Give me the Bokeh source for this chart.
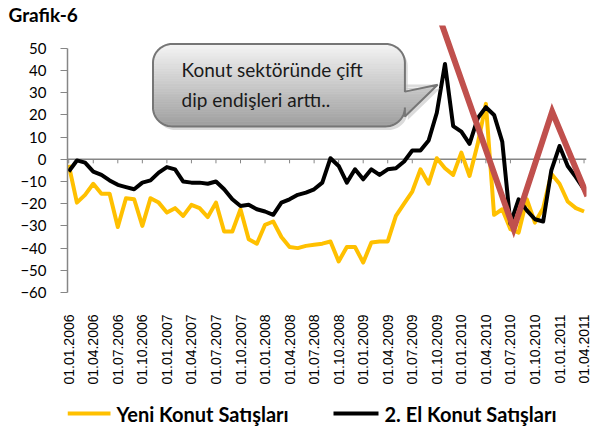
import numpy as np
from bokeh.plotting import figure
from bokeh.layouts import column
from bokeh.models import FixedTicker, Span, ColumnDataSource, Range1d
from bokeh.core.properties import value
from bokeh.embed import file_html
from bokeh.resources import INLINE

# ---------------- data ----------------
months = list(range(64))  # 01.01.2006 ... 01.04.2011, monthly

yeni_konut = [-2.5, -19.5, -16, -11, -15.5, -15.5, -30.5, -17.5, -18, -30,
              -17.5, -19.5, -24, -22, -25.5, -20.5, -22, -26, -19.5, -32.5,
              -32.5, -22.5, -36, -38, -29.5, -28, -35, -39.5, -40, -39,
              -38.5, -38, -37, -46, -39.5, -39.5, -46.5, -37.5, -37, -37,
              -25.5, -20, -14.5, -4.5, -11, 0.5, -4, -7, 3, -7.5,
              7, 25, -25, -22.5, -31.5, -33, -18, -28.5, -22, -6.5,
              -11, -19, -22, -23.5]

ikinci_el = [-5.5, -0.5, -1.5, -5.5, -7, -9.5, -11.5, -12.5, -13.5, -10.5,
             -9.5, -6, -3.5, -4.5, -10, -10.5, -10.5, -11, -10, -13.5,
             -18, -21, -20.5, -22.5, -23.5, -25, -19.5, -18, -16, -15,
             -13.5, -10.5, 0.5, -3, -10.5, -4.5, -9, -4.5, -7, -4.5,
             -4, -1, 4, 4, 8.5, 21, 43, 15, 12.5, 7,
             18.5, 23.5, 20, 8, -29, -18, -23, -27, -28, -5,
             6, -3, -8, -13.5]

tick_months = list(range(0, 64, 3))
tick_labels = ["01.01.2006", "01.04.2006", "01.07.2006", "01.10.2006",
               "01.01.2007", "01.04.2007", "01.07.2007", "01.10.2007",
               "01.01.2008", "01.04.2008", "01.07.2008", "01.10.2008",
               "01.01.2009", "01.04.2009", "01.07.2009", "01.10.2009",
               "01.01.2010", "01.04.2010", "01.07.2010", "01.10.2010",
               "01.01.2011", "01.04.2011"]
y_ticks = [-60, -50, -40, -30, -20, -10, 0, 10, 20, 30, 40, 50]

series_names = ["Yeni Konut Satışları", "2. El Konut Satışları"]
series_colors = ["#FFC000", "#000000"]

# hand-drawn red "W" annotation (data coordinates)
red_x = [45.5, 54.4, 59.1, 63.4]
red_y = [62.0, -31.4, 21.5, -16.6]

# callout box (data coordinates)
callout_left, callout_right = 10.3, 41.1
callout_bottom, callout_top = 14.8, 52.0
callout_rx, callout_ry = 2.4, 8.5
callout_ptr_top, callout_ptr_bot = 30.5, 19.3
callout_tip = (45.1, 33.6)
callout_lines = ["Konut sektöründe çift", "dip endişleri arttı.."]
callout_text_x = 13.8
callout_text_y = [40.4, 26.9]
title_text = "Grafik-6"

# ---------------- main figure ----------------
p = figure(width=592, height=400, output_backend="svg", toolbar_location=None,
           x_range=Range1d(-0.15, 63.3), y_range=Range1d(-60, 60.3),
           min_border_left=67, min_border_right=6, min_border_top=23,
           min_border_bottom=108, title=title_text)
p.outline_line_color = None
p.xgrid.visible = False
p.ygrid.visible = False
p.background_fill_color = "white"
p.border_fill_color = "white"

p.title.text_font = "Lato"
p.title.text_font_style = "bold"
p.title.text_font_size = "19px"
p.title.text_color = "#000000"
p.title.align = "left"
p.title.offset = -59
p.title.standoff = 0

# zero line with its tick marks
zero = Span(location=0, dimension="width", line_color="#868686", line_width=1.5,
            level="underlay")
p.add_layout(zero)
p.segment(x0=tick_months, y0=[0] * len(tick_months), x1=tick_months,
          y1=[-1.8] * len(tick_months), line_color="#868686", line_width=1)

src = ColumnDataSource(dict(m=months, yeni=yeni_konut, el=ikinci_el))
p.line("m", "yeni", source=src, line_color=series_colors[0], line_width=4,
       line_join="round")
p.line("m", "el", source=src, line_color=series_colors[1], line_width=4,
       line_join="round")

# red annotation
p.line(red_x, red_y, line_color="#C0504D", line_width=6, line_join="miter")

# callout shape
L, R, B, T = callout_left, callout_right, callout_bottom, callout_top
rx, ry = callout_rx, callout_ry


def arc(cx, cy, a0, a1, n=14):
    t = np.linspace(a0, a1, n)
    return list(zip(cx + rx * np.cos(t), cy + ry * np.sin(t)))


pts = []
pts += arc(L + rx, T - ry, np.pi, np.pi / 2)
pts += arc(R - rx, T - ry, np.pi / 2, 0)
pts += [(R, callout_ptr_top), callout_tip, (R, callout_ptr_bot)]
pts += arc(R - rx, B + ry, 0, -np.pi / 2)
pts += arc(L + rx, B + ry, -np.pi / 2, -np.pi)


def clip(poly, yv, keep_above):
    out = []
    n = len(poly)
    for k in range(n):
        cur = poly[k]
        prev = poly[k - 1]
        cin = cur[1] >= yv if keep_above else cur[1] <= yv
        pin = prev[1] >= yv if keep_above else prev[1] <= yv
        if cin:
            if not pin:
                t = (yv - prev[1]) / (cur[1] - prev[1])
                out.append((prev[0] + t * (cur[0] - prev[0]), yv))
            out.append(cur)
        elif pin:
            t = (yv - prev[1]) / (cur[1] - prev[1])
            out.append((prev[0] + t * (cur[0] - prev[0]), yv))
    return out


# shadow
sx = [q[0] + 0.35 for q in pts]
sy = [q[1] - 1.6 for q in pts]
p.patch(sx, sy, fill_color="#bdbdbd", fill_alpha=0.55, line_color=None)

nb = 50
edges = np.linspace(B, T, nb + 1)
top_c, bot_c = 245, 158
bx, by, bc = [], [], []
for k in range(nb):
    band = clip(pts, edges[k], True)
    band = clip(band, edges[k + 1] + 0.05, False)
    if len(band) < 3:
        continue
    f = (0.5 * (edges[k] + edges[k + 1]) - B) / (T - B)
    c = int(round(bot_c + f * (top_c - bot_c)))
    bx.append([q[0] for q in band])
    by.append([q[1] for q in band])
    bc.append("#%02x%02x%02x" % (c, c, c))
p.patches(bx, by, fill_color=bc, line_color=bc, line_width=0.6)
p.patch([q[0] for q in pts], [q[1] for q in pts], fill_alpha=0,
        line_color="#767676", line_width=2)

p.text(x=[callout_text_x] * 2, y=callout_text_y, text=callout_lines,
       text_font=value("Lato"), text_font_size=value("19px"),
       text_baseline="middle", text_align="left", text_color="#1a1a1a")

# axes
p.yaxis.ticker = FixedTicker(ticks=y_ticks)
p.yaxis.bounds = (-60, 50)
p.yaxis.axis_line_color = "#868686"
p.yaxis.axis_line_width = 1.5
p.yaxis.major_tick_line_color = "#868686"
p.yaxis.major_tick_out = 7
p.yaxis.major_tick_in = 0
p.yaxis.minor_tick_line_color = None
p.yaxis.major_label_text_font = "Lato"
p.yaxis.major_label_text_font_size = "15px"
p.yaxis.major_label_text_color = "#000000"
p.yaxis.major_label_standoff = 14

p.xaxis.ticker = FixedTicker(ticks=tick_months)
p.xaxis.major_label_overrides = dict(zip(tick_months, tick_labels))
p.xaxis.major_label_orientation = np.pi / 2
p.xaxis.axis_line_color = None
p.xaxis.major_tick_line_color = None
p.xaxis.minor_tick_line_color = None
p.xaxis.major_tick_out = 0
p.xaxis.major_tick_in = 0
p.xaxis.major_label_standoff = 22
p.xaxis.major_label_text_font = "Liberation Sans"
p.xaxis.major_label_text_font_size = "14px"
p.xaxis.major_label_text_color = "#000000"

# ---------------- legend strip (x in page pixels) ----------------
leg = figure(width=592, height=30, output_backend="svg", toolbar_location=None,
             x_range=Range1d(67, 586), y_range=Range1d(0, 30),
             x_axis_location=None, y_axis_location=None,
             min_border_left=67, min_border_right=6, min_border_top=0,
             min_border_bottom=0)
leg.outline_line_color = None
leg.xgrid.visible = False
leg.ygrid.visible = False
leg_sample_x0 = [67, 333]
leg_sample_x1 = [110, 378]
leg_text_x = [116, 384]
leg_y = 17
for k in range(2):
    leg.line([leg_sample_x0[k], leg_sample_x1[k]], [leg_y, leg_y],
             line_color=series_colors[k], line_width=4)
leg.text(x=leg_text_x, y=[leg_y, leg_y],
         text=series_names, text_font=value("Lato"), text_font_style="bold",
         text_font_size=value("20px"), text_baseline="middle",
         text_color="#000000")

layout = column(p, leg, spacing=0)
open("out.html", "w").write(file_html(layout, INLINE))
